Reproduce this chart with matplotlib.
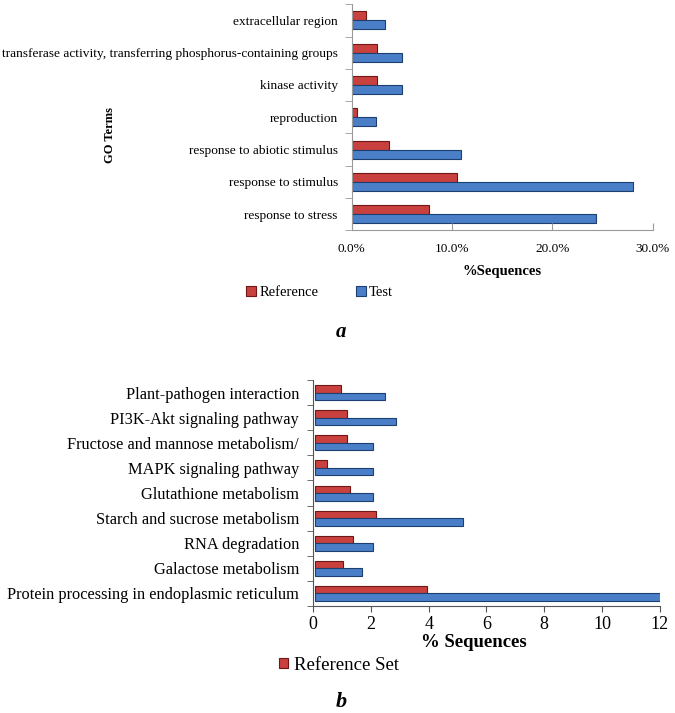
import matplotlib
matplotlib.use("Agg")
import matplotlib.pyplot as plt
import numpy as np

plt.rcParams['font.family'] = ['Liberation Serif', 'DejaVu Serif']

# panel a: GO terms (percent of sequences)
go_terms = ["response to stress", "response to stimulus", "response to abiotic stimulus",
            "reproduction", "kinase activity",
            "transferase activity, transferring phosphorus-containing groups",
            "extracellular region"]
go_ref = [7.7, 10.5, 3.7, 0.5, 2.5, 2.5, 1.4]
go_test = [24.3, 28.0, 10.9, 2.4, 5.0, 5.0, 3.3]
go_ticks = [0, 10, 20, 30]
go_ticklabels = ["0.0%", "10.0%", "20.0%", "30.0%"]

# panel b: KEGG pathways
kegg = ["Protein processing in endoplasmic reticulum", "Galactose metabolism",
        "RNA degradation", "Starch and sucrose metabolism", "Glutathione metabolism",
        "MAPK signaling pathway", "Fructose and mannose metabolism/",
        "PI3K-Akt signaling pathway", "Plant-pathogen interaction"]
kegg_ref = [3.85, 0.95, 1.3, 2.1, 1.2, 0.4, 1.1, 1.1, 0.9]
kegg_test = [12.0, 1.6, 2.0, 5.1, 2.0, 2.0, 2.0, 2.8, 2.4]

red = "#C9413F"
red_edge = "#6E1716"
blue = "#4A7FC8"
blue_edge = "#1F3E70"
grey = "#9A9A9A"

fig = plt.figure(figsize=(6.75, 7.13), dpi=100)

# ---- panel a
ax1 = fig.add_axes([0.521, 0.677, 0.446, 0.317])
y = np.arange(len(go_terms))
h = 0.28
ax1.barh(y + h / 2, go_ref, height=h, color=red, edgecolor=red_edge, linewidth=0.8, label="Reference")
ax1.barh(y - h / 2, go_test, height=h, color=blue, edgecolor=blue_edge, linewidth=0.8, label="Test")
ax1.set_xlim(0, 30)
ax1.set_ylim(-0.5, len(go_terms) - 0.5)
ax1.set_yticks(y)
ax1.set_yticklabels(go_terms, fontsize=9.6)
ax1.set_yticks(np.arange(-0.5, len(go_terms), 1), minor=True)
ax1.tick_params(axis="y", which="major", length=0, pad=10)
ax1.tick_params(axis="y", which="minor", length=5, color=grey, direction="out")
ax1.set_xticks(go_ticks)
ax1.set_xticklabels(go_ticklabels, fontsize=9.5)
ax1.tick_params(axis="x", length=5, color=grey, direction="in", pad=9)
for s in ["top", "right"]:
    ax1.spines[s].set_visible(False)
for s in ["left", "bottom"]:
    ax1.spines[s].set_color(grey)
ax1.set_xlabel("%Sequences", fontsize=10.5, fontweight="bold", labelpad=7)
fig.text(0.163, 0.81, "GO Terms", rotation=90, fontsize=9, fontweight="bold",
         ha="center", va="center")
h1, l1 = ax1.get_legend_handles_labels()
fig.legend(h1, l1, loc="center left", bbox_to_anchor=(0.345, 0.590), ncol=2,
           frameon=False, fontsize=10.5, handlelength=0.7, handleheight=0.7,
           handletextpad=0.2, columnspacing=2.6)
fig.text(0.505, 0.535, "a", fontsize=15, fontweight="bold", style="italic",
         ha="center", va="center")

# ---- panel b
ax2 = fig.add_axes([0.4637, 0.150, 0.514, 0.317])
y2 = np.arange(len(kegg))
h2 = 0.3
ax2.barh(y2 + h2 / 2, kegg_ref, height=h2, left=0.08, color=red, edgecolor=red_edge,
         linewidth=0.8, label="Reference Set")
ax2.barh(y2 - h2 / 2, kegg_test, height=h2, left=0.08, color=blue, edgecolor=blue_edge,
         linewidth=0.8)
ax2.set_xlim(0, 12)
ax2.set_ylim(-0.5, len(kegg) - 0.5)
ax2.set_yticks(y2)
ax2.set_yticklabels(kegg, fontsize=11.8)
ax2.set_yticks(np.arange(-0.5, len(kegg), 1), minor=True)
ax2.tick_params(axis="y", which="major", length=0, pad=10)
ax2.tick_params(axis="y", which="minor", length=4, color="#555555", direction="out")
ax2.set_xticks(np.arange(0, 13, 2))
ax2.tick_params(axis="x", length=4, color="#555555", direction="out", labelsize=13, pad=3)
for s in ["top", "right"]:
    ax2.spines[s].set_visible(False)
for s in ["left", "bottom"]:
    ax2.spines[s].set_color("#555555")
ax2.set_xlabel("% Sequences", fontsize=13.5, fontweight="bold")
ax2.xaxis.set_label_coords(0.464, -0.122)
h2_, l2_ = ax2.get_legend_handles_labels()
fig.legend(h2_, l2_, loc="center left", bbox_to_anchor=(0.388, 0.067), frameon=False,
           fontsize=13.5, handlelength=0.5, handleheight=0.5, handletextpad=0.3)
fig.text(0.505, 0.016, "b", fontsize=16, fontweight="bold", style="italic",
         ha="center", va="center")

fig.savefig("out.png", dpi=100)
